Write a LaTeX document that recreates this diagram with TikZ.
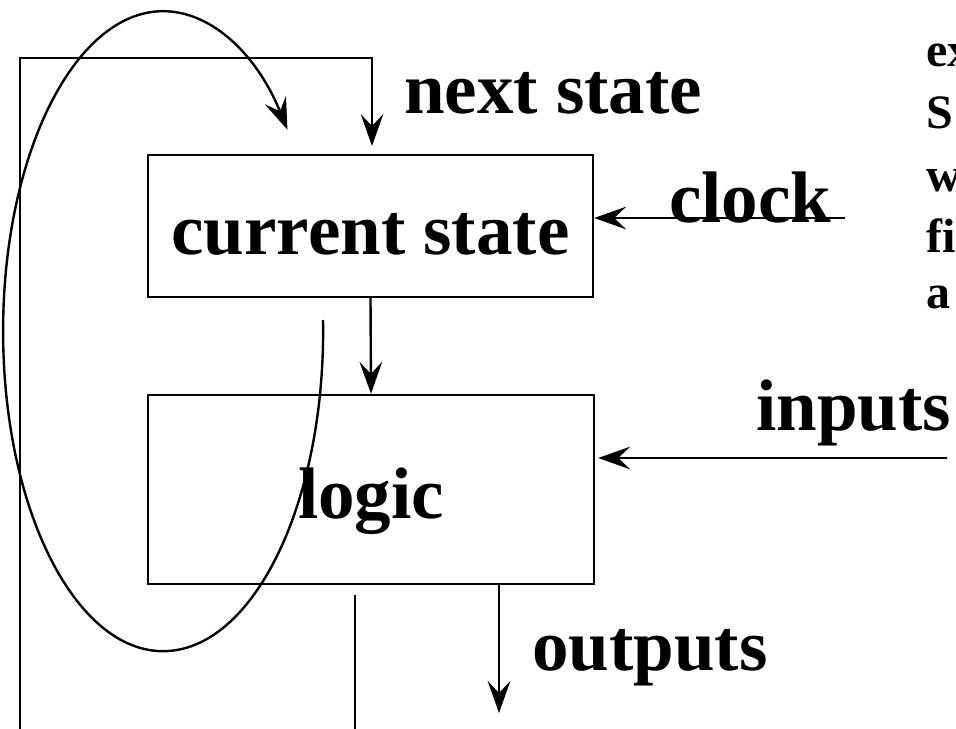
\documentclass[tikz,border=0pt]{standalone}
\usepackage{fontspec}
\setmainfont{Liberation Serif}
\usetikzlibrary{arrows.meta,calc}
\begin{document}
\begin{tikzpicture}[x=0.75pt,y=-0.75pt,
  line width=1.8pt,
  arr/.style={-{Stealth[length=24pt,width=17pt,inset=9pt]}},
  big/.style={font=\fontsize{54.75}{60}\selectfont\bfseries, inner sep=0pt},
  small/.style={font=\fontsize{36}{44}\selectfont\bfseries, inner sep=0pt, anchor=base west},
  boxnode/.style={draw, big, text height=43pt, text depth=0pt}]
\useasboundingbox (0,0) rectangle (956,728);
\clip (0,0) rectangle (956,728);
% boxes
\node[boxnode, minimum width=333.75pt, minimum height=106.5pt] (cs) at (370.5,226) {current state};
\node[boxnode, minimum width=334.5pt, minimum height=141.75pt] (logic) at (371,489.5) {logic};
% labels
\node[big, anchor=base west] (lnext) at (403,113) {next state};
\node[big, anchor=base west] (lclock) at (668,222) {clock};
\node[big, anchor=base west] (linputs) at (755,430) {inputs};
\node[big, anchor=base west] (loutputs) at (531,670) {outputs};
% text cut by the right edge, as in the reference
\node[small] (t1) at (925,66) {ex};
\node[small] (t2) at (925,128) {S};
\node[small] (t3) at (925,191) {w};
\node[small] (t4) at (925,252) {fi};
\node[small] (t5) at (925,308) {a};
% coordinates
\coordinate (fbstart) at (355,595);
\coordinate (fbtip) at (372,146);
\coordinate (outtip) at (499,713);
\coordinate (clk) at (845,218);
\coordinate (inp) at (947,458);
\coordinate (arcstart) at (323,320);
% connectors
\draw[arr] (cs.south) -- (logic.north);
\draw[arr] (fbstart) -- (355,760) -- (20,760) -- (20,58) -- (fbtip |- 0,58) -- (fbtip);
\draw[arr] (logic.south -| outtip) -- (outtip);
\draw[arr] (clk) -- (clk -| cs.east);
\draw[arr] (inp) -- ([xshift=2.25pt]inp -| logic.east);
\draw[arr] (arcstart) arc[start angle=-2, end angle=321, x radius=160, y radius=320];
\end{tikzpicture}
\end{document}
